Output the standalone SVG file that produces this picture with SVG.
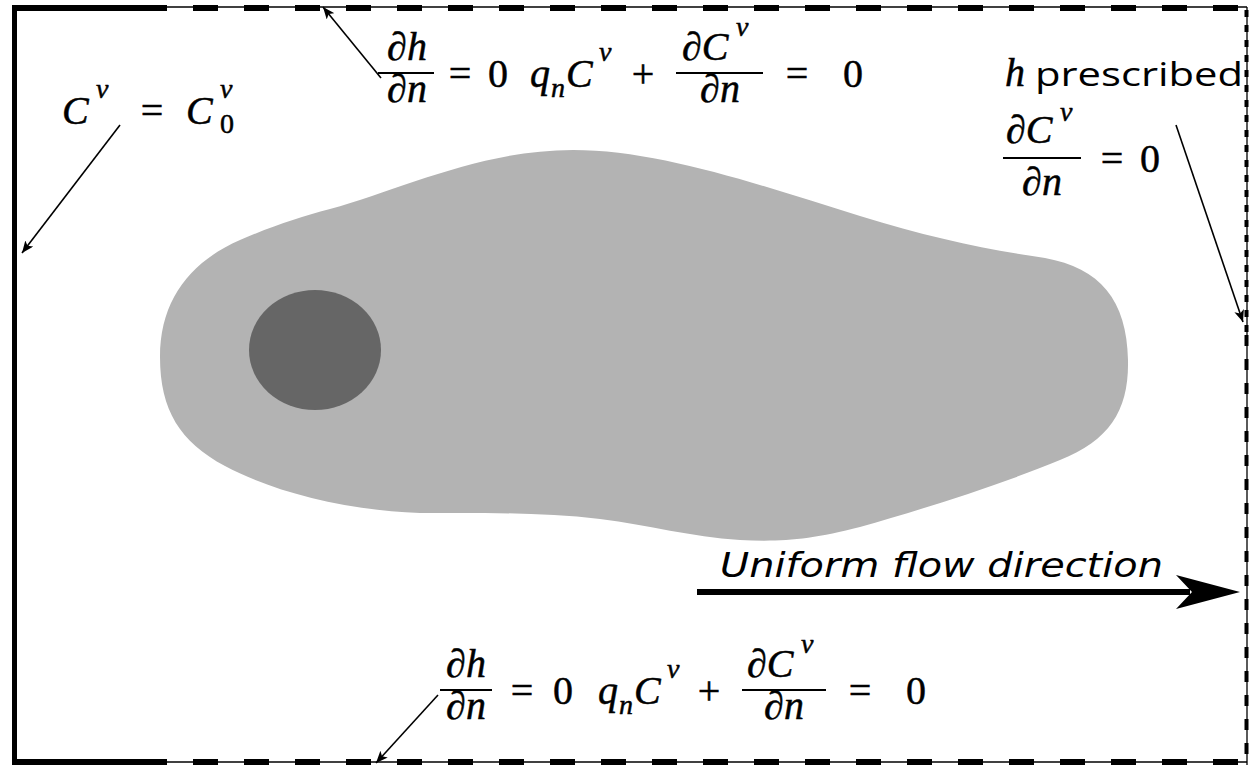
<svg xmlns="http://www.w3.org/2000/svg" width="1250" height="765" viewBox="0 0 1250 765">
<style>
.m{font-family:"Liberation Serif","Times New Roman",serif;font-size:40px;fill:#000;stroke:#000;stroke-width:0.5}
.i{font-style:italic}
.s{font-size:28px}
.c{text-anchor:middle}
.bar{stroke:#000;stroke-width:2}
.thin{stroke:#000;stroke-width:1.3;fill:none}
.lead{stroke:#000;stroke-width:1.6;fill:none}
.sans{font-family:"Open Sans","DejaVu Sans",sans-serif;font-size:32px;fill:#000}
</style>
<defs>
<marker id="ah" viewBox="0 0 12 10" refX="12" refY="5" markerWidth="12" markerHeight="10" markerUnits="userSpaceOnUse" orient="auto">
<path d="M0,0 L12,5 L0,10 L3,5 Z" fill="#000"/>
</marker>
</defs>
<rect width="1250" height="765" fill="#fff"/>

<g id="domain-boundary">
<line x1="14.5" y1="5" x2="14.5" y2="765" stroke="#000" stroke-width="5"/>
<line x1="12" y1="8" x2="142" y2="8" stroke="#000" stroke-width="6"/>
<line x1="12" y1="762" x2="142" y2="762" stroke="#000" stroke-width="6"/>
<line x1="142" y1="7" x2="1247" y2="7" class="thin"/>
<line x1="142" y1="762" x2="1247" y2="762" class="thin"/>
<line x1="142" y1="8" x2="1247" y2="8" stroke="#000" stroke-width="6" stroke-dasharray="25 26"/>
<line x1="142" y1="762" x2="1247" y2="762" stroke="#000" stroke-width="6" stroke-dasharray="25 26"/>
<line x1="1247" y1="7" x2="1247" y2="765" class="thin"/>
<line x1="1246.5" y1="10" x2="1246.5" y2="335" stroke="#000" stroke-width="4" stroke-dasharray="7 8"/>
<line x1="1246.5" y1="335" x2="1246.5" y2="762" stroke="#000" stroke-width="4" stroke-dasharray="11 13"/>
</g>

<g id="plume">
<path d="M160,357 C160,300 190,262 240,240 C275,225 300,217 330,209 C400,190 480,150 573,150 C660,150 760,185 860,216 C930,238 990,250 1045,258 C1100,268 1127,300 1128,360 C1129,410 1110,440 1060,460 C1000,485 920,510 860,527 C810,540 780,542 740,540 C690,537 650,525 600,519 C540,512 480,513 420,513 C340,510 270,490 225,466 C180,442 160,410 160,357 Z" fill="#b3b3b3"/>
</g>
<g id="source">
<ellipse cx="315" cy="350" rx="66" ry="60" fill="#666666"/>
</g>

<g id="connectors">
<line x1="381" y1="78" x2="323" y2="7" class="lead" marker-end="url(#ah)"/>
<line x1="120" y1="125" x2="22" y2="253" class="lead" marker-end="url(#ah)"/>
<line x1="1176" y1="125" x2="1243" y2="322" class="lead" marker-end="url(#ah)"/>
<line x1="438" y1="695" x2="376" y2="763" class="lead" marker-end="url(#ah)"/>
</g>

<g id="label-top">
<text class="m i c" x="407" y="60">∂h</text>
<line class="bar" x1="378" y1="73" x2="434" y2="73"/>
<text class="m i c" x="407" y="102">∂n</text>
<text class="m c" x="460" y="87">=</text>
<text class="m c" x="498" y="87">0</text>
<text class="m i" x="530" y="87">q</text>
<text class="m i s" x="551" y="97">n</text>
<text class="m i" x="566" y="87">C</text>
<text class="m i s" x="599" y="61">v</text>
<text class="m c" x="643" y="87">+</text>
<text class="m i" x="682" y="60">∂C</text>
<text class="m i s" x="736" y="36">v</text>
<line class="bar" x1="676" y1="73" x2="763" y2="73"/>
<text class="m i c" x="720" y="102">∂n</text>
<text class="m c" x="797" y="87">=</text>
<text class="m c" x="853" y="87">0</text>
</g>

<g id="label-bottom">
<text class="m i c" x="466" y="677">∂h</text>
<line class="bar" x1="440" y1="690" x2="492" y2="690"/>
<text class="m i c" x="466" y="719">∂n</text>
<text class="m c" x="522" y="704">=</text>
<text class="m c" x="563" y="704">0</text>
<text class="m i" x="598" y="704">q</text>
<text class="m i s" x="619" y="714">n</text>
<text class="m i" x="634" y="704">C</text>
<text class="m i s" x="667" y="678">v</text>
<text class="m c" x="709" y="704">+</text>
<text class="m i" x="747" y="677">∂C</text>
<text class="m i s" x="801" y="653">v</text>
<line class="bar" x1="742" y1="690" x2="826" y2="690"/>
<text class="m i c" x="784" y="719">∂n</text>
<text class="m c" x="860" y="704">=</text>
<text class="m c" x="916" y="704">0</text>
</g>

<g id="label-left">
<text class="m i" x="62" y="124" font-size="44">C</text>
<text class="m i s" x="96" y="98">v</text>
<text class="m c" x="152" y="124">=</text>
<text class="m i" x="186" y="124" font-size="44">C</text>
<text class="m i s" x="220" y="98">v</text>
<text class="m s" x="220" y="133">0</text>
</g>

<g id="label-right">
<text class="m i" x="1005" y="86">h</text>
<text class="sans" x="1035" y="86" textLength="208" lengthAdjust="spacingAndGlyphs">prescribed</text>
<text class="m i" x="1006" y="143">∂C</text>
<text class="m i s" x="1060" y="121">v</text>
<line class="bar" x1="1003" y1="158" x2="1081" y2="158"/>
<text class="m i c" x="1042" y="195">∂n</text>
<text class="m c" x="1112" y="172">=</text>
<text class="m c" x="1150" y="172">0</text>
</g>

<g id="flow-arrow">
<text x="720" y="577" font-family="DejaVu Sans, sans-serif" font-style="italic" font-size="34" textLength="443" lengthAdjust="spacingAndGlyphs">Uniform flow direction</text>
<line x1="697" y1="592" x2="1190" y2="592" stroke="#000" stroke-width="6"/>
<path d="M1240,592 L1176,575 L1192,592 L1176,609 Z" fill="#000"/>
</g>
</svg>
